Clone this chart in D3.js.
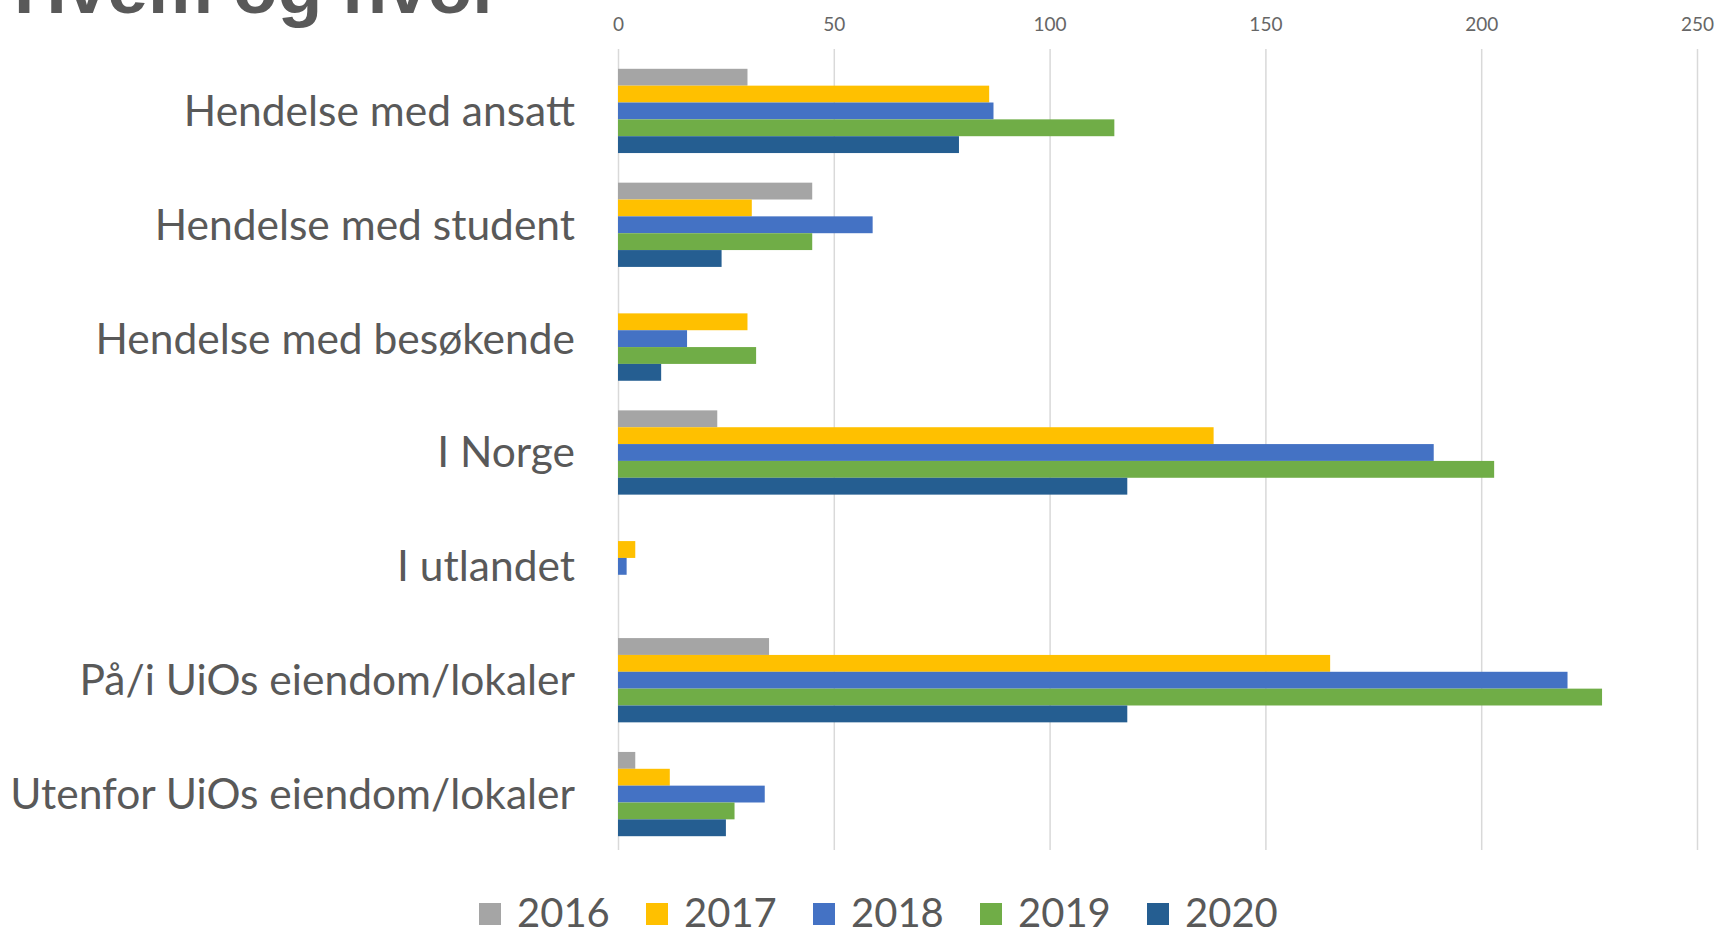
<!DOCTYPE html>
<html lang="no">
<head>
    <meta charset="UTF-8">
    <script src="https://d3js.org/d3.v7.min.js"></script>
    <title>Hvem og hvor</title>
    <style>
        body { margin: 0; background: #fff; }
        svg { display: block; }
    </style>
</head>
<body>
<script>
    // Data
    const categories = [
        'Hendelse med ansatt',
        'Hendelse med student',
        'Hendelse med besøkende',
        'I Norge',
        'I utlandet',
        'På/i UiOs eiendom/lokaler',
        'Utenfor UiOs eiendom/lokaler'
    ];
    const years = ['2016', '2017', '2018', '2019', '2020'];
    const values2016 = [30, 45, 0, 23, 0, 35, 4];
    const values2017 = [86, 31, 30, 138, 4, 165, 12];
    const values2018 = [87, 59, 16, 189, 2, 220, 34];
    const values2019 = [115, 45, 32, 203, 0, 228, 27];
    const values2020 = [79, 24, 10, 118, 0, 118, 25];
    const tickValues = [0, 50, 100, 150, 200, 250];
    const colors = ['#A5A5A5', '#FFC000', '#4472C4', '#70AD47', '#255E91'];

    const series = [values2016, values2017, values2018, values2019, values2020];

    const W = 1720, H = 931;
    const svg = d3.select('body').append('svg')
        .attr('width', W)
        .attr('height', H);

    const textColor = '#595959';

    // Title (cut off at the top in the original)
    svg.append('text')
        .attr('x', 14)
        .attr('y', 13)
        .attr('font-family', 'Liberation Sans, Arial, sans-serif')
        .attr('font-weight', 'bold')
        .attr('font-size', '73px')
        .attr('fill', textColor)
        .text('Hvem og hvor');

    const x = d3.scaleLinear()
        .domain([0, 250])
        .range([618, 1697]);

    const y = d3.scaleBand()
        .domain(categories)
        .range([54, 851])
        .paddingInner(0.26)
        .paddingOuter(0.13);

    const ySub = d3.scaleBand()
        .domain(years)
        .range([0, y.bandwidth()]);

    const color = d3.scaleOrdinal()
        .domain(years)
        .range(colors);

    // Grid + top axis
    const axis = svg.append('g')
        .attr('transform', 'translate(0, 49)')
        .call(d3.axisTop(x).tickValues(tickValues).tickSize(-801).tickPadding(18));
    axis.select('.domain').remove();
    axis.selectAll('.tick line')
        .attr('stroke', '#d9d9d9')
        .attr('stroke-width', 1.5);
    axis.selectAll('.tick text')
        .attr('fill', '#666')
        .attr('font-family', 'Lato, sans-serif')
        .attr('font-size', '19px');

    // Bars
    const groups = svg.append('g')
        .selectAll('g')
        .data(categories)
        .enter()
        .append('g')
        .attr('transform', d => `translate(0, ${y(d)})`);

    groups.selectAll('rect')
        .data((d, i) => years.map((yr, j) => ({ year: yr, value: series[j][i] })))
        .enter()
        .append('rect')
        .attr('x', x(0))
        .attr('y', d => ySub(d.year))
        .attr('width', d => x(d.value) - x(0))
        .attr('height', ySub.bandwidth())
        .attr('fill', d => color(d.year));

    // Category labels
    svg.append('g')
        .selectAll('text')
        .data(categories)
        .enter()
        .append('text')
        .attr('x', 575)
        .attr('y', d => y(d) + y.bandwidth() / 2)
        .attr('dy', '0.35em')
        .attr('text-anchor', 'end')
        .attr('font-family', 'Lato, sans-serif')
        .attr('font-size', '42.5px')
        .attr('fill', textColor)
        .text(d => d);

    // Legend
    const legend = svg.append('g')
        .selectAll('g')
        .data(years)
        .enter()
        .append('g')
        .attr('transform', (d, i) => `translate(${479 + i * 167}, 0)`);

    legend.append('rect')
        .attr('y', 903)
        .attr('width', 22)
        .attr('height', 22)
        .attr('fill', d => color(d));

    legend.append('text')
        .attr('x', 38)
        .attr('y', 927)
        .attr('font-family', 'Lato, sans-serif')
        .attr('font-size', '40px')
        .attr('fill', textColor)
        .text(d => d);
</script>
</body>
</html>
